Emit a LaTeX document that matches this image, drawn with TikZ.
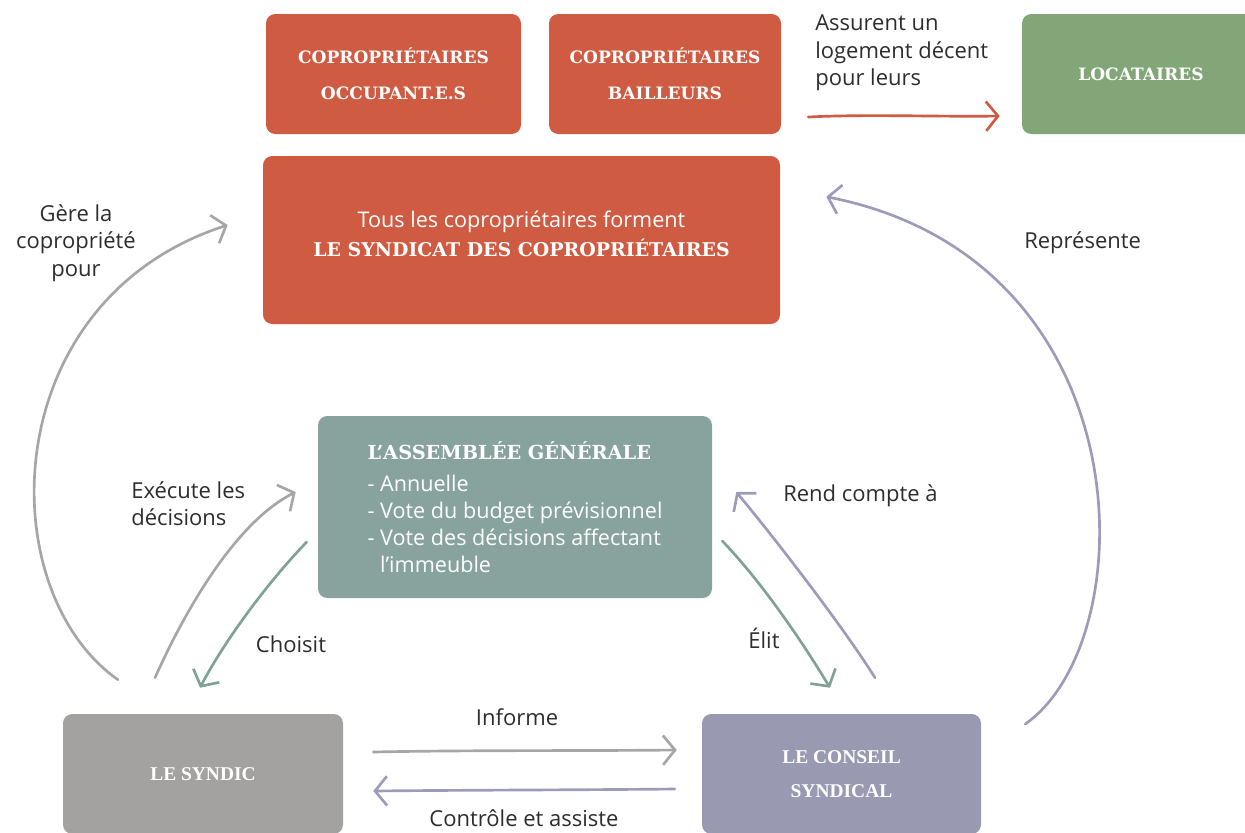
\documentclass[tikz,border=0pt]{standalone}
\usepackage{fontspec}
\setmainfont{Open Sans}
\newfontfamily\slabfont{DejaVu Serif}
\newfontfamily\condfont{Liberation Serif}
\usetikzlibrary{arrows.meta,calc,positioning}
\definecolor{brique}{RGB}{208,91,67}
\definecolor{sauge}{RGB}{130,166,119}
\definecolor{gristeal}{RGB}{136,163,157}
\definecolor{grisbox}{RGB}{163,162,160}
\definecolor{mauve}{RGB}{154,153,178}
\definecolor{flgris}{RGB}{166,166,166}
\definecolor{flteal}{RGB}{127,161,150}
\definecolor{flmauve}{RGB}{156,155,187}
\definecolor{ink}{RGB}{45,45,45}
\newcommand{\titrebox}{\slabfont\bfseries\fontsize{12.8}{27}\selectfont}
\newcommand{\titrebig}{\slabfont\bfseries\fontsize{14.2}{22}\selectfont}
\newcommand{\titrecond}{\condfont\bfseries\fontsize{14.6}{26}\selectfont}

\begin{document}
\begin{tikzpicture}[x=0.75pt,y=-0.75pt,
    box/.style={rounded corners=7pt, text=white, align=center, inner sep=0pt},
    lbl/.style={text=ink, font=\fontsize{16.5}{20.5}\selectfont, inner sep=0pt},
    fleche/.style={line width=2pt, line cap=round,
      -{Straight Barb[length=9pt,width=22pt,line width=2pt]}}]
  \useasboundingbox (0,0) rectangle (1245,832);
  % boites du haut
  \node[box, fill=brique, minimum width=191.25pt, minimum height=90pt, font=\titrebox] (occ) at (393.5,74) {COPROPRIÉTAIRES\\OCCUPANT.E.S};
  \node[box, fill=brique, minimum width=174pt, minimum height=90pt, font=\titrebox] (bail) at (665,74) {COPROPRIÉTAIRES\\BAILLEURS};
  \node[box, fill=sauge, minimum width=178.5pt, minimum height=90pt, font=\titrebox] (loc) at (1141,74) {LOCATAIRES};
  \node[box, fill=brique, minimum width=387.75pt, minimum height=126pt] (synd) at (521.5,240) {};
  \node[box, font=\fontsize{16.2}{22}\selectfont] (syndtxt) at ($(synd.center)+(0,-6)$)
    {Tous les copropriétaires forment\\{\titrebig LE SYNDICAT DES COPROPRIÉTAIRES}};
  % assemblee
  \node[box, fill=gristeal, minimum width=295.5pt, minimum height=136.5pt, align=left, font=\fontsize{16.2}{20.3}\selectfont] (ag) at (515,507)
    {{\slabfont\bfseries\fontsize{14.5}{20}\selectfont L’ASSEMBLÉE GÉNÉRALE}\\[4pt]
     - Annuelle\\
     - Vote du budget prévisionnel\\
     - Vote des décisions affectant\\
     \hphantom{- }l’immeuble};
  % boites du bas
  \node[box, fill=grisbox, minimum width=210pt, minimum height=90pt, font=\titrecond] (syndic) at (203,774) {LE SYNDIC};
  \node[box, fill=mauve, minimum width=209.25pt, minimum height=90pt, font=\titrecond] (conseil) at (841.5,774) {LE CONSEIL\\SYNDICAL};
  % libelles
  \node[lbl, anchor=west, align=left] (lblassur) at (815,53) {Assurent un\\logement décent\\pour leurs};
  \node[lbl, align=center] (lblgere) at (76,243) {Gère la\\copropriété\\pour};
  \node[lbl, anchor=west] (lblrep) at (1024,243) {Représente};
  \node[lbl, anchor=west, align=left] (lblexec) at (131,504) {Exécute les\\décisions};
  \node[lbl] (lblchoix) at (291,644) {Choisit};
  \node[lbl, anchor=west] (lblrend) at (783,496) {Rend compte à};
  \node[lbl] (lblelit) at (764,638) {Élit};
  \node[lbl] (lblinfo) at (517,717) {Informe};
  \node[lbl] (lblctrl) at (524,818) {Contrôle et assiste};
  % fleches
  \draw[fleche, brique] ($(bail.east)+(27,43)$) .. controls +(60,-3) and +(-60,1) .. ($(loc.west)+(-22,42)$);
  \draw[fleche, flgris] ($(syndic.north)+(-85,-34)$) .. controls +(-128,-90) and +(-232,75) .. ($(synd.west)+(-35,-15)$);
  \draw[fleche, flmauve] ($(conseil.east)+(44,-50)$) .. controls +(120,-84) and +(320,63) .. ($(synd.north east)+(46,41)$);
  \draw[fleche, flgris] ($(syndic.north)+(-48,-36)$) .. controls +(35,-78) and +(-56,28) .. ($(ag.west)+(-22,-15)$);
  \draw[fleche, flteal] ($(ag.west)+(-11,35)$) .. controls +(-37,38) and +(25,-48) .. ($(syndic.north)+(-3,-26)$);
  \draw[fleche, flmauve] ($(conseil.north)+(33.5,-36)$) .. controls +(-30,-48) and +(44,53) .. ($(ag.east)+(24,-15)$);
  \draw[fleche, flteal] ($(ag.east)+(10,34)$) .. controls +(33,34) and +(-35,-58) .. ($(conseil.north)+(-11.5,-26)$);
  \draw[fleche, flgris] ($(syndic.east)+(30,-22)$) .. controls +(100,-2) and +(-100,1) .. ($(conseil.west)+(-25,-24)$);
  \draw[fleche, flmauve] ($(conseil.west)+(-27,15)$) .. controls +(-100,1) and +(100,-1) .. ($(syndic.east)+(30,17)$);
\end{tikzpicture}
\end{document}
